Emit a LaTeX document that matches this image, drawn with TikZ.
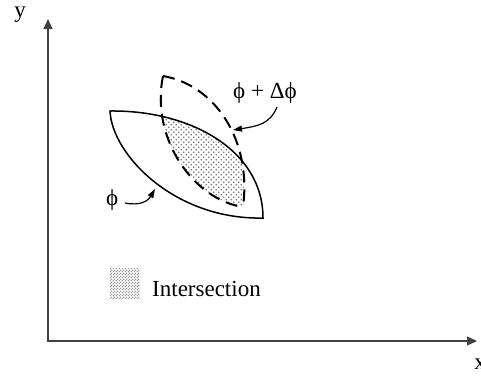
\documentclass[tikz,border=0pt]{standalone}
\usepackage{fontspec}
\setmainfont{Liberation Serif}
\usetikzlibrary{arrows.meta,patterns.meta}
\tikzdeclarepattern{name=lensdots,type=uncolored,bottom left={(-.5pt,-.5pt)},top right={(5.5pt,5.5pt)},tile size={(5pt,5pt)},
  code={\fill (1.25pt,1.25pt) circle (0.85pt); \fill (3.75pt,3.75pt) circle (0.85pt);}}
\tikzdeclarepattern{name=legdots,type=uncolored,bottom left={(-.5pt,-.5pt)},top right={(3.5pt,3.5pt)},tile size={(3pt,3pt)},
  code={\fill (0.75pt,0.75pt) circle (0.65pt); \fill (2.25pt,2.25pt) circle (0.65pt);}}
\tikzset{
  axis/.style={line width=1.2pt,draw=black!75,-{Triangle[length=10pt,width=9pt]}},
  lbl/.style={font=\fontsize{23}{26}\selectfont,inner sep=0pt},
  solidlens/.style={line width=1.5pt},
  dashlens/.style={line width=2pt,dash pattern=on 12pt off 7pt},
  pointer/.style={line width=1.2pt,-{Triangle[length=9pt,width=6pt]}},
  dotfill/.style={pattern={lensdots},pattern color=black!55},
}
\begin{document}
\begin{tikzpicture}[x=1pt,y=-1pt]
\useasboundingbox (0,0) rectangle (481,376);
% axes
\coordinate (O) at (48,341);
\coordinate (Ytip) at (48,19);
\coordinate (Xtip) at (477,341);
\draw[axis] (O) -- (Ytip);
\draw[axis] ([xshift=-0.6pt]O) -- (Xtip);
\node[lbl] (ylab) at (20,15) {y};
\node[lbl] (xlab) at (480,364) {x};
% lens corners
\coordinate (A) at (110,111);
\coordinate (B) at (263,218);
\coordinate (C) at (163,76);
\coordinate (D) at (243,207);
% intersection fill
\begin{scope}
\clip (A) .. controls (190,110) and (263,150) .. (B) .. controls (175,220) and (112,155) .. (A) -- cycle;
\fill[dotfill] (C) .. controls (150,140) and (195,200) .. (D) .. controls (252,140) and (215,85) .. (C) -- cycle;
\end{scope}
% solid lens
\draw[solidlens,line join=miter] (A) .. controls (190,110) and (263,150) .. (B) .. controls (175,220) and (112,155) .. (A) -- cycle;
% dashed lens
\draw[dashlens] (C) .. controls (150,140) and (195,200) .. (D);
\draw[dashlens] (C) .. controls (215,85) and (252,140) .. (D);
% labels
\node[lbl,anchor=base west] (dphi) at (233,98) {ϕ + Δϕ};
\node[lbl,anchor=base west] (phi) at (106,205) {ϕ};
\coordinate (dphiStart) at (277,107);
\coordinate (dphiEnd) at (233,130);
\coordinate (phiStart) at (125,203);
\coordinate (phiEnd) at (155,189);
\draw[pointer] (dphiStart) .. controls (270,124) and (258,126) .. (dphiEnd);
\draw[pointer] (phiStart) .. controls (140,206) and (148,201) .. (phiEnd);
% legend
\node[draw=none,minimum width=30pt,minimum height=30pt,inner sep=0pt,pattern={legdots},pattern color=black!55] (leg) at (125,283) {};
\node[lbl,anchor=base west] (legtext) at (152,296) {Intersection};
\end{tikzpicture}
\end{document}
